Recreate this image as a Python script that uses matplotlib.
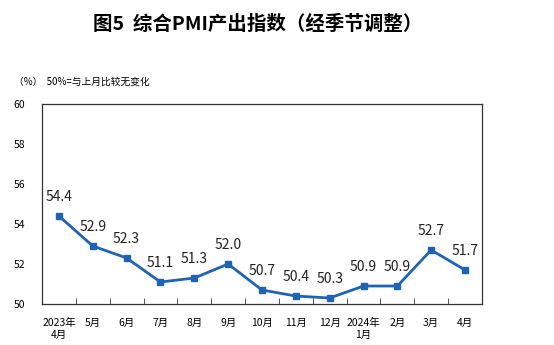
import matplotlib.pyplot as plt
import numpy as np

plt.rcParams['font.family'] = ['Noto Sans CJK SC', 'DejaVu Sans']

# data
months = ['2023年\n4月', '5月', '6月', '7月', '8月', '9月', '10月', '11月', '12月',
          '2024年\n1月', '2月', '3月', '4月']
values = [54.4, 52.9, 52.3, 51.1, 51.3, 52.0, 50.7, 50.4, 50.3, 50.9, 50.9, 52.7, 51.7]
yticks = [50, 52, 54, 56, 58, 60]

color = '#1f63b5'

fig = plt.figure(figsize=(5.54, 3.45), dpi=100)
ax = fig.add_axes([0.0758, 0.1188, 0.7942, 0.5798])

x = np.arange(len(values))
ax.plot(x, values, color=color, lw=2, marker='s', ms=5, zorder=3)
for xi, v in zip(x, values):
    ax.annotate(f'{v:.1f}', (xi, v), xytext=(0, 9), textcoords='offset points',
                ha='center', va='bottom', fontsize=10, color='#222222')

ax.set_xlim(-0.5, len(values) - 0.5)
ax.set_ylim(50, 60)
ax.set_yticks(yticks)
ax.set_yticklabels([str(t) for t in yticks], fontsize=7.5)
ax.tick_params(axis='y', length=0, pad=12)

# category labels under each point, tick marks on the boundaries
ax.set_xticks(x)
ax.set_xticklabels(months, fontsize=7.5, linespacing=1.3, va='top')
ax.tick_params(axis='x', which='major', length=0, pad=10)
ax.set_xticks(np.arange(0.5, len(values) - 0.5, 1), minor=True)
ax.tick_params(axis='x', which='minor', direction='in', length=4, color='#333333')

for s in ax.spines.values():
    s.set_color('#333333')
    s.set_linewidth(0.9)

fig.text(0.466, 0.93, '图5  综合PMI产出指数（经季节调整）', ha='center', va='center',
         fontsize=14, fontweight='bold')
fig.text(0.025, 0.762, '（%）  50%=与上月比较无变化', ha='left', va='center', fontsize=7)

plt.savefig('out.png', dpi=100)
